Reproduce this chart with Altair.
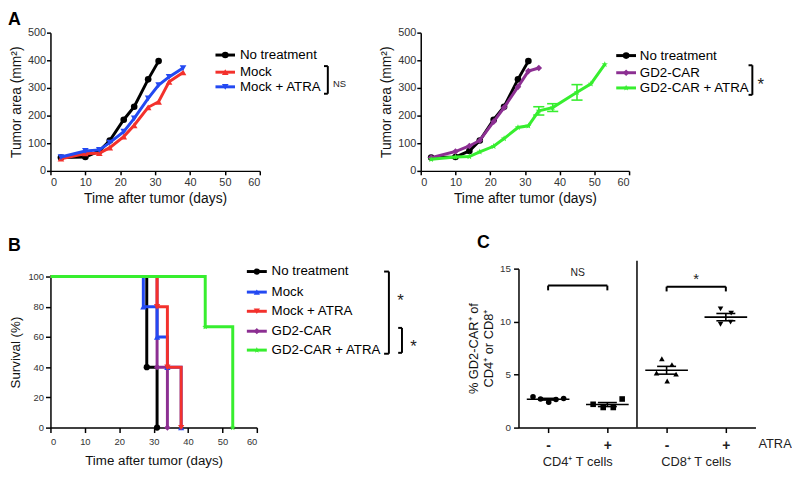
import altair as alt
import numpy as np
import pandas as pd

FONT = "Liberation Sans"

# ================= Panel A: tumour area (mm^2) =================
A_DAYS_NO = [3, 10, 14, 17, 21, 24, 28, 31]
A_AREA_NO = [48, 50, 72, 110, 185, 232, 331, 397]
A_DAYS_MOCK = [3, 10, 14, 17, 21, 24, 28, 31, 34, 38]
A_AREA_MOCK = [44, 63, 64, 84, 124, 165, 230, 250, 322, 356]
A_DAYS_MOCK_ATRA = [3, 10, 14, 17, 21, 24, 28, 31, 34, 38]
A_AREA_MOCK_ATRA = [50, 72, 76, 102, 142, 190, 262, 310, 340, 372]
A_DAYS_CAR = [3, 10, 14, 17, 21, 24, 28, 31, 34]
A_AREA_CAR = [48, 70, 90, 110, 178, 229, 304, 361, 372]
A_DAYS_CAR_ATRA = [3, 10, 14, 17, 21, 24, 28, 31, 34, 38, 45, 49, 53]
A_AREA_CAR_ATRA = [42, 50, 52, 69, 89, 117, 157, 163, 217, 229, 284, 315, 385]
A_SEM_CAR_ATRA = [0, 0, 0, 0, 0, 0, 0, 0, 15, 14, 28, 0, 0]

# ================= Panel B: survival (%) =================
B_NAMES = ["No treatment", "Mock", "Mock + ATRA", "GD2-CAR", "GD2-CAR + ATRA"]
B_DAYS_NO = [0, 28, 31]
B_SURV_NO = [100, 40, 0]
B_DAYS_MOCK = [0, 27, 31, 34, 38]
B_SURV_MOCK = [100, 80, 60, 40, 0]
B_DAYS_MOCK_ATRA = [0, 31, 34, 38]
B_SURV_MOCK_ATRA = [100, 80, 40, 0]
B_DAYS_CAR = [0, 31, 34]
B_SURV_CAR = [100, 40, 0]
B_DAYS_CAR_ATRA = [0, 45, 53]
B_SURV_CAR_ATRA = [100, 66.7, 0]

# ================= Panel C: % GD2-CAR+ =================
C_GROUPS = ["CD4 -", "CD4 +", "CD8 -", "CD8 +"]
C_POS = [0.5, 1.5, 2.5, 3.5]
C_CD4_MINUS = [2.9, 2.7, 2.4, 2.65, 2.75]
C_CD4_MINUS_DX = [-0.255, -0.128, 0.01, 0.133, 0.262]
C_CD4_PLUS = [2.2, 1.9, 1.9, 2.7]
C_CD4_PLUS_DX = [-0.24, -0.07, 0.1, 0.25]
C_CD8_MINUS = [6.5, 5.95, 5.15, 5.05, 4.4]
C_CD8_MINUS_DX = [-0.08, 0.09, -0.17, 0.16, 0.01]
C_CD8_PLUS = [11.2, 10.8, 9.75, 9.95]
C_CD8_PLUS_DX = [-0.09, 0.09, -0.09, 0.08]
C_CELL_LABELS = ["CD4\u207a T cells", "CD8\u207a T cells"]

# ================= styles =================
BLACK = "#000000"
RED = "#f3312c"
BLUE = "#2349f2"
PURPLE = "#8c2f92"
GREEN = "#37ee2f"


def star_path(n=5, r_in=0.42):
    pts = []
    for k in range(2 * n):
        r = 1.0 if k % 2 == 0 else r_in
        a = -np.pi / 2 + k * np.pi / n
        pts.append(f"{r * np.cos(a):.3f},{r * np.sin(a):.3f}")
    return "M" + " L".join(pts) + " Z"


STAR = star_path()


def long_df(names, xs, ys):
    rows = []
    for n, xl, yl in zip(names, xs, ys):
        for a, b in zip(xl, yl):
            rows.append({"series": n, "x": a, "y": b})
    return pd.DataFrame(rows)


def seg_df(segs):
    return pd.DataFrame(segs, columns=["x", "x2", "y", "y2"])


def bracket(xv, xt, ytop, ybot):
    return [(xt, xv, ytop, ytop), (xv, xv, ytop, ybot), (xt, xv, ybot, ybot)]


def letter_layer(letter, dx, dy):
    return alt.Chart(pd.DataFrame({"t": [letter]})).mark_text(
        fontSize=18, fontWeight="bold", align="left", baseline="top", color="black"
    ).encode(x=alt.value(dx), y=alt.value(dy), text="t:N")


def curve_panel(names, xs, ys, colors, shapes, order, leg, brks, sigs, width, height,
                xaxis, yaxis, ydomain, yrange=None, step=False, letter=None, err=None,
                marker_size=45, leg_font=13.5):
    df = long_df(names, xs, ys)
    xsc = alt.Scale(domain=[0, 60], nice=False, zero=False)
    if yrange is None:
        ysc = alt.Scale(domain=ydomain, nice=False)
    else:
        ysc = alt.Scale(domain=ydomain, nice=False, range=yrange)

    def X(f):
        return alt.X(f, type="quantitative", scale=xsc, axis=xaxis)

    def Y(f):
        return alt.Y(f, type="quantitative", scale=ysc, axis=yaxis)

    col = alt.Color("series:N", scale=alt.Scale(domain=names, range=colors), legend=None)
    shp = alt.Shape("series:N", scale=alt.Scale(domain=names, range=shapes), legend=None)
    layers = []
    if err is not None:
        ename, evals = err
        edf = df[df["series"] == ename].copy().reset_index(drop=True)
        edf["e"] = evals
        edf = edf[edf["e"] > 0].copy()
        edf["lo"] = edf["y"] - edf["e"]
        edf["hi"] = edf["y"] + edf["e"]
        edf["cl"] = edf["x"] - 1.6
        edf["cr"] = edf["x"] + 1.6
        eb = alt.Chart(edf)
        layers.append(eb.mark_rule(strokeWidth=1.6).encode(x=X("x"), y=Y("lo"), y2="hi", color=col))
        layers.append(eb.mark_rule(strokeWidth=1.6).encode(x=X("cl"), x2="cr", y=Y("lo"), color=col))
        layers.append(eb.mark_rule(strokeWidth=1.6).encode(x=X("cl"), x2="cr", y=Y("hi"), color=col))
    for s in order:
        sub = df[df["series"] == s]
        if step:
            line = alt.Chart(sub).mark_line(strokeWidth=3, interpolate="step-after")
            pts = alt.Chart(sub[sub["x"] > 0])
        else:
            line = alt.Chart(sub).mark_line(strokeWidth=3)
            pts = alt.Chart(sub)
        layers.append(line.encode(x=X("x"), y=Y("y"), color=col))
        layers.append(pts.mark_point(filled=True, size=marker_size, opacity=1).encode(
            x=X("x"), y=Y("y"), color=col, shape=shp))
    # legend drawn as marks
    ldf = pd.DataFrame({"series": names, "y": leg["rows"]})
    ldf["x0"] = leg["x0"]
    ldf["x1"] = leg["x1"]
    ldf["xm"] = (leg["x0"] + leg["x1"]) / 2
    ldf["xt"] = leg["xt"]
    lb = alt.Chart(ldf)
    layers.append(lb.mark_rule(strokeWidth=3).encode(x=X("x0"), x2="x1", y=Y("y"), color=col))
    layers.append(lb.mark_point(filled=True, size=marker_size, opacity=1).encode(
        x=X("xm"), y=Y("y"), color=col, shape=shp))
    layers.append(lb.mark_text(align="left", baseline="middle", fontSize=leg_font, color="black").encode(
        x=X("xt"), y=Y("y"), text="series:N"))
    segs = []
    for b in brks:
        segs += bracket(*b)
    layers.append(alt.Chart(seg_df(segs)).mark_rule(strokeWidth=2, color="black").encode(
        x=X("x"), x2="x2", y=Y("y"), y2="y2"))
    for (t, sx, sy, fs, dy) in sigs:
        layers.append(alt.Chart(pd.DataFrame({"t": [t], "x": [sx], "y": [sy]})).mark_text(
            align="left", baseline="middle", fontSize=fs, dy=dy, color="#222222").encode(
            x=X("x"), y=Y("y"), text="t:N"))
    if letter is not None:
        layers.append(letter_layer(*letter))
    return alt.layer(*layers).properties(width=width, height=height)


# ---------------- axes ----------------
def a_xaxis():
    return alt.Axis(title="Time after tumor (days)", values=list(range(0, 61, 10)), labelFontSize=11,
                    tickSize=4, labelPadding=2, titlePadding=4, titleFontSize=14)


def a_yaxis():
    return alt.Axis(title="Tumor area (mm\u00b2)", values=list(range(0, 501, 100)), labelFontSize=11,
                    tickSize=4, labelPadding=1, titlePadding=4, titleFontSize=14)


A_H = 140
A1 = curve_panel(
    ["No treatment", "Mock", "Mock + ATRA"],
    [A_DAYS_NO, A_DAYS_MOCK, A_DAYS_MOCK_ATRA],
    [A_AREA_NO, A_AREA_MOCK, A_AREA_MOCK_ATRA],
    [BLACK, RED, BLUE], ["circle", "triangle-up", "triangle-down"],
    ["No treatment", "Mock", "Mock + ATRA"],
    dict(rows=[419, 357, 304], x0=47.3, x1=52.9, xt=54.3),
    [(79.5, 78.4, 379, 279)],
    [("NS", 81.0, 314, 9.5, 0)],
    212, A_H, a_xaxis(), a_yaxis(), [0, 500], letter=("A", -43, -22))

A2 = curve_panel(
    ["No treatment", "GD2-CAR", "GD2-CAR + ATRA"],
    [A_DAYS_NO, A_DAYS_CAR, A_DAYS_CAR_ATRA],
    [A_AREA_NO, A_AREA_CAR, A_AREA_CAR_ATRA],
    [BLACK, PURPLE, GREEN], ["circle", "diamond", STAR],
    ["No treatment", "GD2-CAR", "GD2-CAR + ATRA"],
    dict(rows=[417, 355, 300], x0=56.3, x1=62.0, xt=63.1),
    [(95.5, 94.4, 382, 275)],
    [("*", 97.0, 330, 17, 5)],
    211, A_H, a_xaxis(), a_yaxis(), [0, 500], err=("GD2-CAR + ATRA", A_SEM_CAR_ATRA))

B_H = 161
b_xaxis = alt.Axis(title="Time after tumor (days)", values=list(range(0, 61, 10)), labelFontSize=9.5,
                   tickSize=5, labelPadding=4, titlePadding=8, titleFontSize=13.5)
b_yaxis = alt.Axis(title="Survival (%)", values=list(range(0, 101, 20)), labelFontSize=9.5,
                   tickSize=5, labelPadding=2, titlePadding=6, titleFontSize=13.5)
B = curve_panel(
    B_NAMES,
    [B_DAYS_NO, B_DAYS_MOCK, B_DAYS_MOCK_ATRA, B_DAYS_CAR, B_DAYS_CAR_ATRA],
    [B_SURV_NO, B_SURV_MOCK, B_SURV_MOCK_ATRA, B_SURV_CAR, B_SURV_CAR_ATRA],
    [BLACK, BLUE, RED, PURPLE, GREEN], ["circle", "triangle-up", "triangle-down", "diamond", STAR],
    ["No treatment", "GD2-CAR", "Mock", "Mock + ATRA", "GD2-CAR + ATRA"],
    dict(rows=[103.3, 89.7, 77.0, 63.8, 51.3], x0=57.1, x1=62.9, xt=64.3),
    [(98.4, 97.0, 103.3, 48.9), (102.2, 101.1, 66.0, 49.5)],
    [("*", 100.8, 86.8, 17, 5), ("*", 104.6, 56.5, 17, 5)],
    209, B_H, b_xaxis, b_yaxis, [0, 100], yrange=[B_H, 8], step=True,
    letter=("B", -43, -32), marker_size=40)

# ---------------- panel C ----------------
C_H = 161
c_rows = []
for g, p, vals, dxs in zip(C_GROUPS, C_POS, [C_CD4_MINUS, C_CD4_PLUS, C_CD8_MINUS, C_CD8_PLUS],
                           [C_CD4_MINUS_DX, C_CD4_PLUS_DX, C_CD8_MINUS_DX, C_CD8_PLUS_DX]):
    for v, d in zip(vals, dxs):
        c_rows.append({"group": g, "x": p + d, "y": v})
cdf = pd.DataFrame(c_rows)
stats = []
for g, p, vals in zip(C_GROUPS, C_POS, [C_CD4_MINUS, C_CD4_PLUS, C_CD8_MINUS, C_CD8_PLUS]):
    arr = np.array(vals, dtype=float)
    m = arr.mean()
    se = arr.std(ddof=1) / np.sqrt(len(arr))
    stats.append({"group": g, "pos": p, "mean": m, "lo": m - se, "hi": m + se})
sdf = pd.DataFrame(stats)

cxs = alt.Scale(domain=[0, 4], nice=False, zero=False)
cys = alt.Scale(domain=[0, 15], nice=False)
c_xaxis = alt.Axis(title=None, values=C_POS, labelExpr="(datum.value % 2) < 1 ? '-' : '+'",
                   labelFontSize=14, labelFontWeight="bold", labelColor="#222222", tickSize=5,
                   labelPadding=6)
c_yaxis = alt.Axis(title=["% GD2-CAR\u207a of", "CD4\u207a or CD8\u207a"], values=[0, 5, 10, 15],
                   labelFontSize=10, tickSize=5, labelPadding=3, titlePadding=4, titleFontSize=13)


def CX(f):
    return alt.X(f, type="quantitative", scale=cxs, axis=c_xaxis)


def CY(f):
    return alt.Y(f, type="quantitative", scale=cys, axis=c_yaxis)


c_layers = []
c_layers.append(alt.Chart(pd.DataFrame({"x": [2.0], "y": [0.0], "y2": [15.75]})).mark_rule(
    strokeWidth=1.5, color="black").encode(x=CX("x"), y=CY("y"), y2="y2"))
c_layers.append(alt.Chart(cdf).mark_point(filled=True, size=32, opacity=1, color="black").encode(
    x=CX("x"), y=CY("y"),
    shape=alt.Shape("group:N", scale=alt.Scale(domain=C_GROUPS,
                    range=["circle", "square", "triangle-up", "triangle-down"]), legend=None)))
sdf["ml"] = sdf["pos"] - 0.36
sdf["mr"] = sdf["pos"] + 0.36
sdf["cl"] = sdf["pos"] - 0.16
sdf["cr"] = sdf["pos"] + 0.16
sb = alt.Chart(sdf)
c_layers.append(sb.mark_rule(strokeWidth=1.6, color="black").encode(x=CX("ml"), x2="mr", y=CY("mean")))
c_layers.append(sb.mark_rule(strokeWidth=1.6, color="black").encode(x=CX("pos"), y=CY("lo"), y2="hi"))
c_layers.append(sb.mark_rule(strokeWidth=1.6, color="black").encode(x=CX("cl"), x2="cr", y=CY("lo")))
c_layers.append(sb.mark_rule(strokeWidth=1.6, color="black").encode(x=CX("cl"), x2="cr", y=CY("hi")))
c_segs = [(0.5, 0.5, 12.95, 13.4), (0.5, 1.5, 13.4, 13.4), (1.5, 1.5, 12.95, 13.4),
          (2.5, 2.5, 12.85, 13.3), (2.5, 3.5, 13.3, 13.3), (3.5, 3.5, 12.85, 13.3)]
c_layers.append(alt.Chart(seg_df(c_segs)).mark_rule(strokeWidth=2, color="black").encode(
    x=CX("x"), x2="x2", y=CY("y"), y2="y2"))
c_layers.append(alt.Chart(pd.DataFrame({"t": ["NS"], "x": [1.0], "y": [14.6]})).mark_text(
    fontSize=10.5, baseline="middle", color="#222222").encode(x=CX("x"), y=CY("y"), text="t:N"))
c_layers.append(alt.Chart(pd.DataFrame({"t": ["*"], "x": [3.0], "y": [14.4]})).mark_text(
    fontSize=15, baseline="middle", dy=4, color="#222222").encode(x=CX("x"), y=CY("y"), text="t:N"))
c_layers.append(alt.Chart(pd.DataFrame({"t": C_CELL_LABELS, "x": [1.0, 3.0]})).mark_text(
    fontSize=13, baseline="middle", color="#222222").encode(x=CX("x"), y=alt.value(C_H + 35), text="t:N"))
c_layers.append(alt.Chart(pd.DataFrame({"t": ["ATRA"], "x": [4.05]})).mark_text(
    fontSize=13, align="left", baseline="middle", color="#222222").encode(
    x=CX("x"), y=alt.value(C_H + 17), text="t:N"))
c_layers.append(letter_layer("C", -42, -35))
C = alt.layer(*c_layers).properties(width=240, height=C_H)

rowA = alt.hconcat(A1, A2, spacing=33).resolve_scale(color="independent", shape="independent")
rowB = alt.hconcat(B, C, spacing=51).resolve_scale(color="independent", shape="independent")
chart = alt.vconcat(rowA, rowB, spacing=29).resolve_scale(
    color="independent", shape="independent"
).properties(padding=0).configure(font=FONT).configure_view(stroke=None).configure_axis(
    grid=False, domainColor="black", domainWidth=1.5, tickColor="black", tickWidth=1.5,
    labelColor="#333333", titleColor="#111111", titleFontWeight="normal",
    labelFont=FONT, titleFont=FONT
).configure_text(font=FONT)

chart.save("out.html", embed_options={"renderer": "svg", "actions": False})
